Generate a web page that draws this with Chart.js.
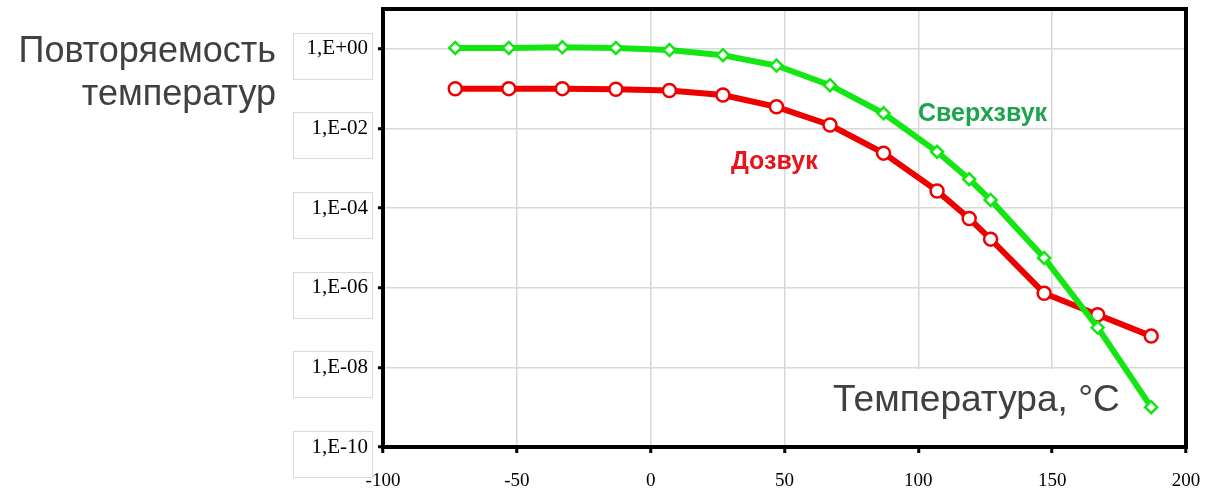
<!DOCTYPE html>
<html>
<head>
<meta charset="utf-8">
<script src="https://cdn.jsdelivr.net/npm/chart.js@4/dist/chart.umd.min.js"></script>
<style>
  html, body { margin: 0; padding: 0; background: #fff; }
  #wrap { position: relative; width: 1205px; height: 494px; }
  canvas { position: absolute; left: 0; top: 0; }
  .lbl { position: absolute; white-space: nowrap; font-family: "Liberation Sans", Arial, sans-serif; }
  #title { left: 0; top: 28px; width: 276px; text-align: right; font-size: 36px; line-height: 43px; color: #404040; }
  #xtitle { left: 833px; top: 378px; font-size: 36px; line-height: 42px; color: #404040; transform: scaleX(1.03); transform-origin: left center; }
  #super { left: 918px; top: 97px; font-size: 25px; line-height: 30px; font-weight: bold; color: #1ea34f; }
  #sub { left: 731px; top: 145px; font-size: 25px; line-height: 30px; font-weight: bold; color: #e8141a; }
</style>
</head>
<body>
<div id="wrap">
  <canvas id="chart" width="1205" height="494"></canvas>
  <div class="lbl" id="title">Повторяемость<br>температур</div>
  <div class="lbl" id="super">Сверхзвук</div>
  <div class="lbl" id="sub">Дозвук</div>
  <div class="lbl" id="xtitle">Температура, °C</div>
</div>
<script>
  // temperature, °C
  var temps = [-73, -53, -33, -13, 7, 27, 47, 67, 87, 107, 119, 127, 147, 167, 187];
  // Сверхзвук
  var supersonic = [1.05, 1.05, 1.09, 1.05, 0.93, 0.69, 0.38, 0.122, 0.024, 0.0026, 5.3e-4, 1.6e-4, 5.6e-6, 1.0e-7, 1.0e-9];
  // Дозвук
  var subsonic = [0.099, 0.1, 0.1, 0.097, 0.09, 0.069, 0.035, 0.0122, 0.0024, 2.7e-4, 5.5e-5, 1.66e-5, 7.3e-7, 2.1e-7, 6.1e-8];
  var yTicks = [1e-10, 1e-8, 1e-6, 1e-4, 1e-2, 1e0];

  function pts(ys) {
    return temps.map(function (t, i) { return { x: t, y: ys[i] }; });
  }

  function fmtExp(v) {
    var e = Math.round(Math.log10(v));
    var s = e >= 0 ? '+' : '-';
    var n = Math.abs(e);
    return '1,E' + s + (n < 10 ? '0' + n : '' + n);
  }

  // faint boxes behind y tick labels, white patch under the axis title, black frame
  var decor = {
    id: 'decor',
    beforeDraw: function (chart) {
      var ctx = chart.ctx, y = chart.scales.y;
      ctx.save();
      ctx.strokeStyle = '#dadada';
      ctx.lineWidth = 1;
      yTicks.forEach(function (v) {
        var py = Math.round(y.getPixelForValue(v));
        ctx.strokeRect(293.5, py - 15.5, 79, 46);
      });
      ctx.restore();
    },
    beforeDatasetsDraw: function (chart) {
      var ctx = chart.ctx;
      ctx.save();
      ctx.fillStyle = '#fff';
      ctx.fillRect(822, 369, 362, 76);
      ctx.restore();
    },
    afterDraw: function (chart) {
      var ctx = chart.ctx, a = chart.chartArea;
      ctx.save();
      ctx.strokeStyle = '#000';
      ctx.lineWidth = 4;
      ctx.strokeRect(a.left, a.top, a.right - a.left, a.bottom - a.top);
      ctx.restore();
    }
  };

  new Chart(document.getElementById('chart'), {
    type: 'line',
    data: {
      datasets: [{
        label: 'Сверхзвук',
        data: pts(supersonic),
        borderColor: '#14e614',
        backgroundColor: '#fff',
        borderWidth: 6,
        pointStyle: 'rectRot',
        pointRadius: 6,
        pointBorderWidth: 2.5,
        pointBorderColor: '#14e614',
        pointBackgroundColor: '#fff',
        tension: 0
      }, {
        label: 'Дозвук',
        data: pts(subsonic),
        borderColor: '#ee0000',
        backgroundColor: '#fff',
        borderWidth: 6,
        pointStyle: 'circle',
        pointRadius: 6.5,
        pointBorderWidth: 2.5,
        pointBorderColor: '#ee0000',
        pointBackgroundColor: '#fff',
        tension: 0
      }]
    },
    options: {
      responsive: false,
      animation: false,
      layout: { padding: { top: 7, right: 19, left: 0, bottom: 0 } },
      plugins: { legend: { display: false }, tooltip: { enabled: false } },
      scales: {
        x: {
          type: 'linear',
          min: -100,
          max: 200,
          afterFit: function (s) { s.height = 47; s.paddingLeft = 0; s.paddingRight = 0; },
          ticks: {
            stepSize: 50,
            padding: 17,
            color: '#000',
            font: { family: '"Liberation Serif", "Times New Roman", serif', size: 19 }
          },
          grid: { color: '#d8d8d8', lineWidth: 1.5, tickColor: '#000', tickLength: 6, tickWidth: 3 },
          border: { display: false }
        },
        y: {
          type: 'logarithmic',
          min: 1e-10,
          max: 10,
          afterFit: function (s) { s.width = 383; s.paddingTop = 0; s.paddingBottom = 0; },
          afterBuildTicks: function (s) {
            s.ticks = yTicks.map(function (v) { return { value: v }; });
          },
          ticks: {
            padding: 10,
            color: '#000',
            callback: function (v) { return fmtExp(v); },
            font: { family: '"Liberation Serif", "Times New Roman", serif', size: 21 }
          },
          grid: { color: '#d8d8d8', lineWidth: 1.5, tickColor: '#000', tickLength: 5, tickWidth: 3 },
          border: { display: false }
        }
      }
    },
    plugins: [decor]
  });
</script>
</body>
</html>
